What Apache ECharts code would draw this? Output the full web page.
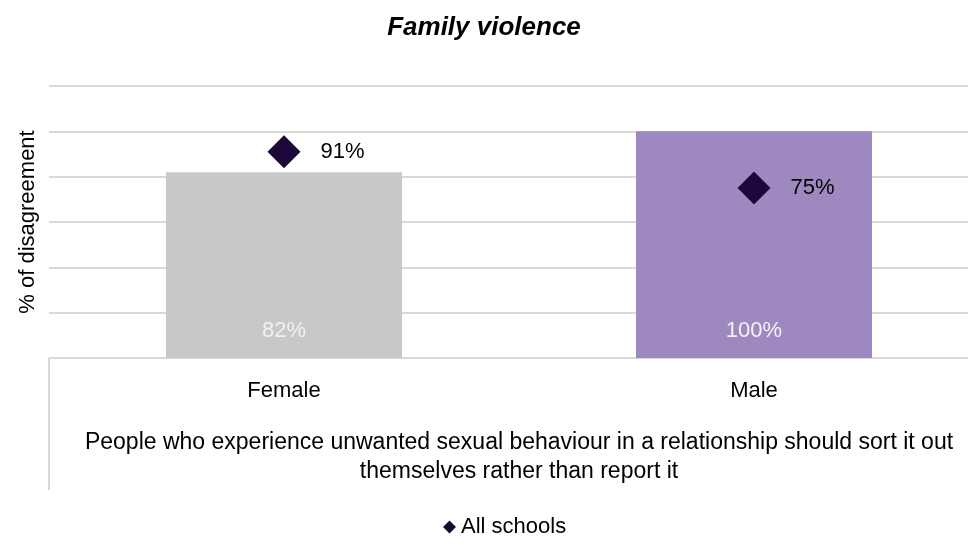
<!DOCTYPE html>
<html>
<head>
<meta charset="utf-8">
<script src="https://cdn.jsdelivr.net/npm/echarts@6/dist/echarts.min.js"></script>
<style>html,body{margin:0;padding:0;background:#fff}#c{width:968px;height:545px}</style>
</head>
<body>
<div id="c"></div>
<script>
const title = 'Family violence';
const categories = ['Female', 'Male'];
const groupLabel = 'People who experience unwanted sexual behaviour in a relationship should sort it out\nthemselves rather than report it';
const barValues = [82, 100];
const allSchools = [91, 75];
const seriesName = 'All schools';
const yAxisName = '% of disagreement';

const FONT = 'Liberation Sans';
const barColors = ['#c8c8c8', '#9e88c0'];
const markerColor = '#1c0838';
const gridColor = '#d9d9d9';

const chart = echarts.init(document.getElementById('c'));
chart.setOption({
  animation: false,
  backgroundColor: '#ffffff',
  textStyle: { fontFamily: FONT },
  title: {
    text: title, left: 'center', top: 10,
    textStyle: { fontFamily: FONT, fontSize: 26, fontWeight: 'bold', fontStyle: 'italic', color: '#000' }
  },
  legend: {
    bottom: 2, left: 438, icon: 'diamond', itemWidth: 13, itemHeight: 13, itemGap: 8,
    data: [seriesName],
    itemStyle: { opacity: 1 },
    textStyle: { fontFamily: FONT, fontSize: 22, color: '#000' }
  },
  grid: { left: 49, right: -21, top: 86, bottom: 187, containLabel: false, outerBoundsMode: 'none' },
  xAxis: [
    {
      type: 'category', data: categories, position: 'bottom',
      axisLine: { show: true, lineStyle: { color: gridColor, width: 2 } },
      axisTick: { show: false },
      axisLabel: { margin: 22, fontFamily: FONT, fontSize: 22, color: '#000', interval: 0 }
    },
    {
      type: 'category', data: [groupLabel], position: 'bottom', gridIndex: 0,
      axisLine: { show: false },
      axisTick: { show: true, length: 132, inside: false, interval: 0, lineStyle: { color: gridColor, width: 2 } },
      axisLabel: { margin: 70, fontFamily: FONT, fontSize: 23, lineHeight: 29, color: '#000', interval: 0, align: 'center' }
    }
  ],
  yAxis: {
    type: 'value', min: 0, max: 120, interval: 20,
    name: yAxisName, nameLocation: 'middle', nameGap: 10, nameRotate: 90,
    nameTextStyle: { fontFamily: FONT, fontSize: 22, color: '#000' },
    axisLine: { show: false }, axisTick: { show: false }, axisLabel: { show: false },
    splitLine: { show: true, lineStyle: { color: gridColor, width: 2 } }
  },
  series: [
    {
      type: 'bar', xAxisIndex: 0, barWidth: 236, name: 'bars',
      data: barValues.map((v, i) => ({ value: v, itemStyle: { color: barColors[i] } })),
      label: { show: true, position: 'insideBottom', distance: 16, formatter: '{c}%', color: '#f2f2f2', fontFamily: FONT, fontSize: 22 }
    },
    {
      type: 'scatter', xAxisIndex: 0, name: seriesName, symbol: 'diamond', symbolSize: 33,
      itemStyle: { color: markerColor, opacity: 1 },
      data: allSchools,
      label: { show: true, position: 'right', distance: 20, formatter: '{c}%', color: '#000', fontFamily: FONT, fontSize: 22 }
    }
  ]
});
</script>
</body>
</html>
